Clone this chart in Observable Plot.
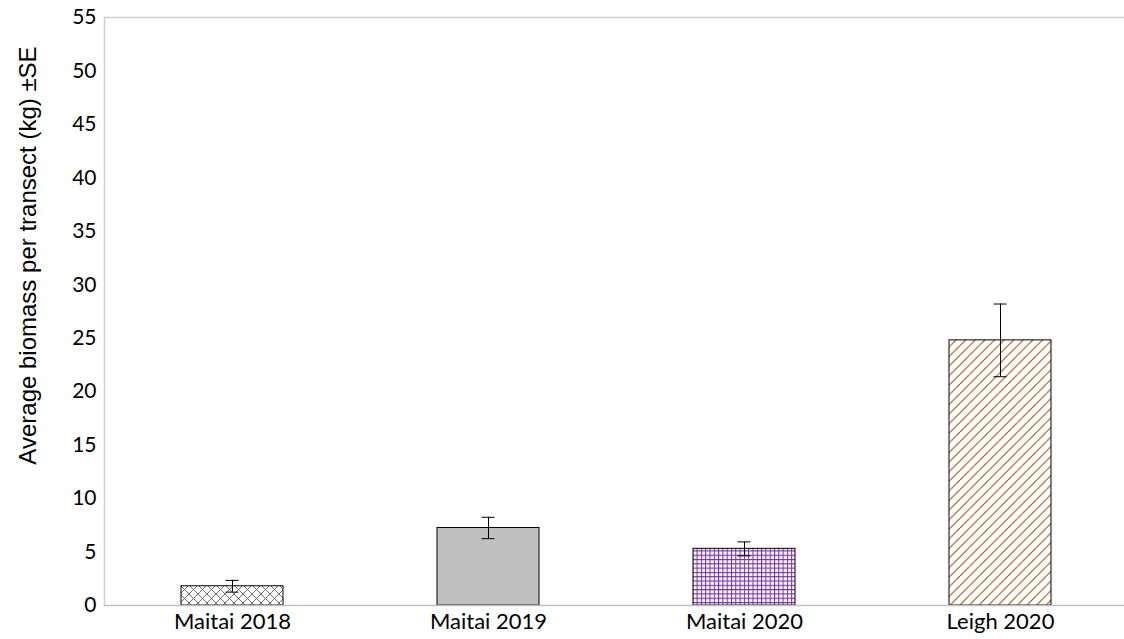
<!DOCTYPE html>
<html>
<head>
<meta charset="utf-8">
<script src="https://cdn.jsdelivr.net/npm/d3@7"></script>
<script src="https://cdn.jsdelivr.net/npm/@observablehq/plot@0.6"></script>
<style>
  html, body { margin: 0; padding: 0; background: #fff; }
  #chart svg { display: block; }
</style>
</head>
<body>
<div id="chart"></div>
<script>
const categories = ["Maitai 2018", "Maitai 2019", "Maitai 2020", "Leigh 2020"];
const values = [1.8, 7.25, 5.3, 24.8];
const errors = [0.55, 1.0, 0.65, 3.4];
const yTicks = [0, 5, 10, 15, 20, 25, 30, 35, 40, 45, 50, 55];
const yTitle = "Average biomass per transect (kg) ±SE";

const fills = ["url(#pat-cross)", "#c0c0c0", "url(#pat-grid)", "url(#pat-diag)"];
const table = categories.map((c, i) => ({cat: c, value: values[i], se: errors[i], lo: values[i] - errors[i], hi: values[i] + errors[i]}));

const gridColor = "#d0d0d0";

const svg = Plot.plot({
  width: 1124,
  height: 639,
  marginTop: 17,
  marginBottom: 34,
  marginLeft: 104,
  marginRight: 0,
  style: {fontFamily: "Lato, 'Open Sans', sans-serif", fontSize: "21px", color: "#000", background: "#fff"},
  x: {domain: categories, range: [104, 1128], paddingInner: 0.6, paddingOuter: 0.3, align: 0.5, label: null},
  y: {domain: [0, 55], ticks: yTicks, label: null},
  marks: [
    Plot.frame({anchor: "left", stroke: gridColor, strokeWidth: 1.5}),
    Plot.frame({anchor: "top", stroke: gridColor, strokeWidth: 1.5}),
    ...table.map((d, i) => Plot.barY([d], {x: "cat", y: "value", fill: fills[i], stroke: "#000", strokeWidth: 1})),
    Plot.frame({anchor: "bottom", stroke: "#c0c0c0", strokeWidth: 1.5}),
    Plot.ruleX(table, {x: "cat", y1: "lo", y2: "hi", stroke: "#000", strokeWidth: 1}),
    Plot.tickY(table, {x: "cat", y: "hi", stroke: "#000", strokeWidth: 1, insetLeft: 44.5, insetRight: 44.5}),
    Plot.tickY(table, {x: "cat", y: "lo", stroke: "#000", strokeWidth: 1, insetLeft: 44.5, insetRight: 44.5}),
    Plot.axisY({ticks: yTicks, tickSize: 0, tickPadding: 8, label: null, fontSize: 21}),
    Plot.axisX({tickSize: 0, tickPadding: 8, label: null, fontSize: 22}),
    Plot.text([yTitle], {frameAnchor: "left", textAnchor: "middle", dx: -76, dy: -56, rotate: -90, text: d => d, fontSize: 24, fontFamily: "'Liberation Sans', Arial, sans-serif", fill: "#000"})
  ]
});

const defs = d3.select(svg).insert("defs", ":first-child");
// cross hatch
const pc = defs.append("pattern").attr("id", "pat-cross").attr("patternUnits", "userSpaceOnUse").attr("width", 9).attr("height", 9);
pc.append("rect").attr("width", 9).attr("height", 9).attr("fill", "#fff");
pc.append("path").attr("d", "M0,0L9,9M9,0L0,9M-1,8L1,10M8,-1L10,1M-1,1L1,-1M8,10L10,8").attr("stroke", "#606060").attr("stroke-width", 0.9);
// purple grid
const pg = defs.append("pattern").attr("id", "pat-grid").attr("patternUnits", "userSpaceOnUse").attr("width", 4.3).attr("height", 4.3);
pg.append("rect").attr("width", 4.3).attr("height", 4.3).attr("fill", "#faf6fd");
pg.append("path").attr("d", "M0,0.5H4.3M0.5,0V4.3").attr("stroke", "#7030a0").attr("stroke-width", 1);
// diagonal lines
const pd = defs.append("pattern").attr("id", "pat-diag").attr("patternUnits", "userSpaceOnUse").attr("width", 9.6).attr("height", 9.6);
pd.append("rect").attr("width", 9.6).attr("height", 9.6).attr("fill", "#fff");
pd.append("path").attr("d", "M0,9.6L9.6,0M-2,1.6L1.6,-2M8,11.6L11.6,8").attr("stroke", "#a04a10").attr("stroke-width", 1.1);

document.getElementById("chart").appendChild(svg);
</script>
</body>
</html>
